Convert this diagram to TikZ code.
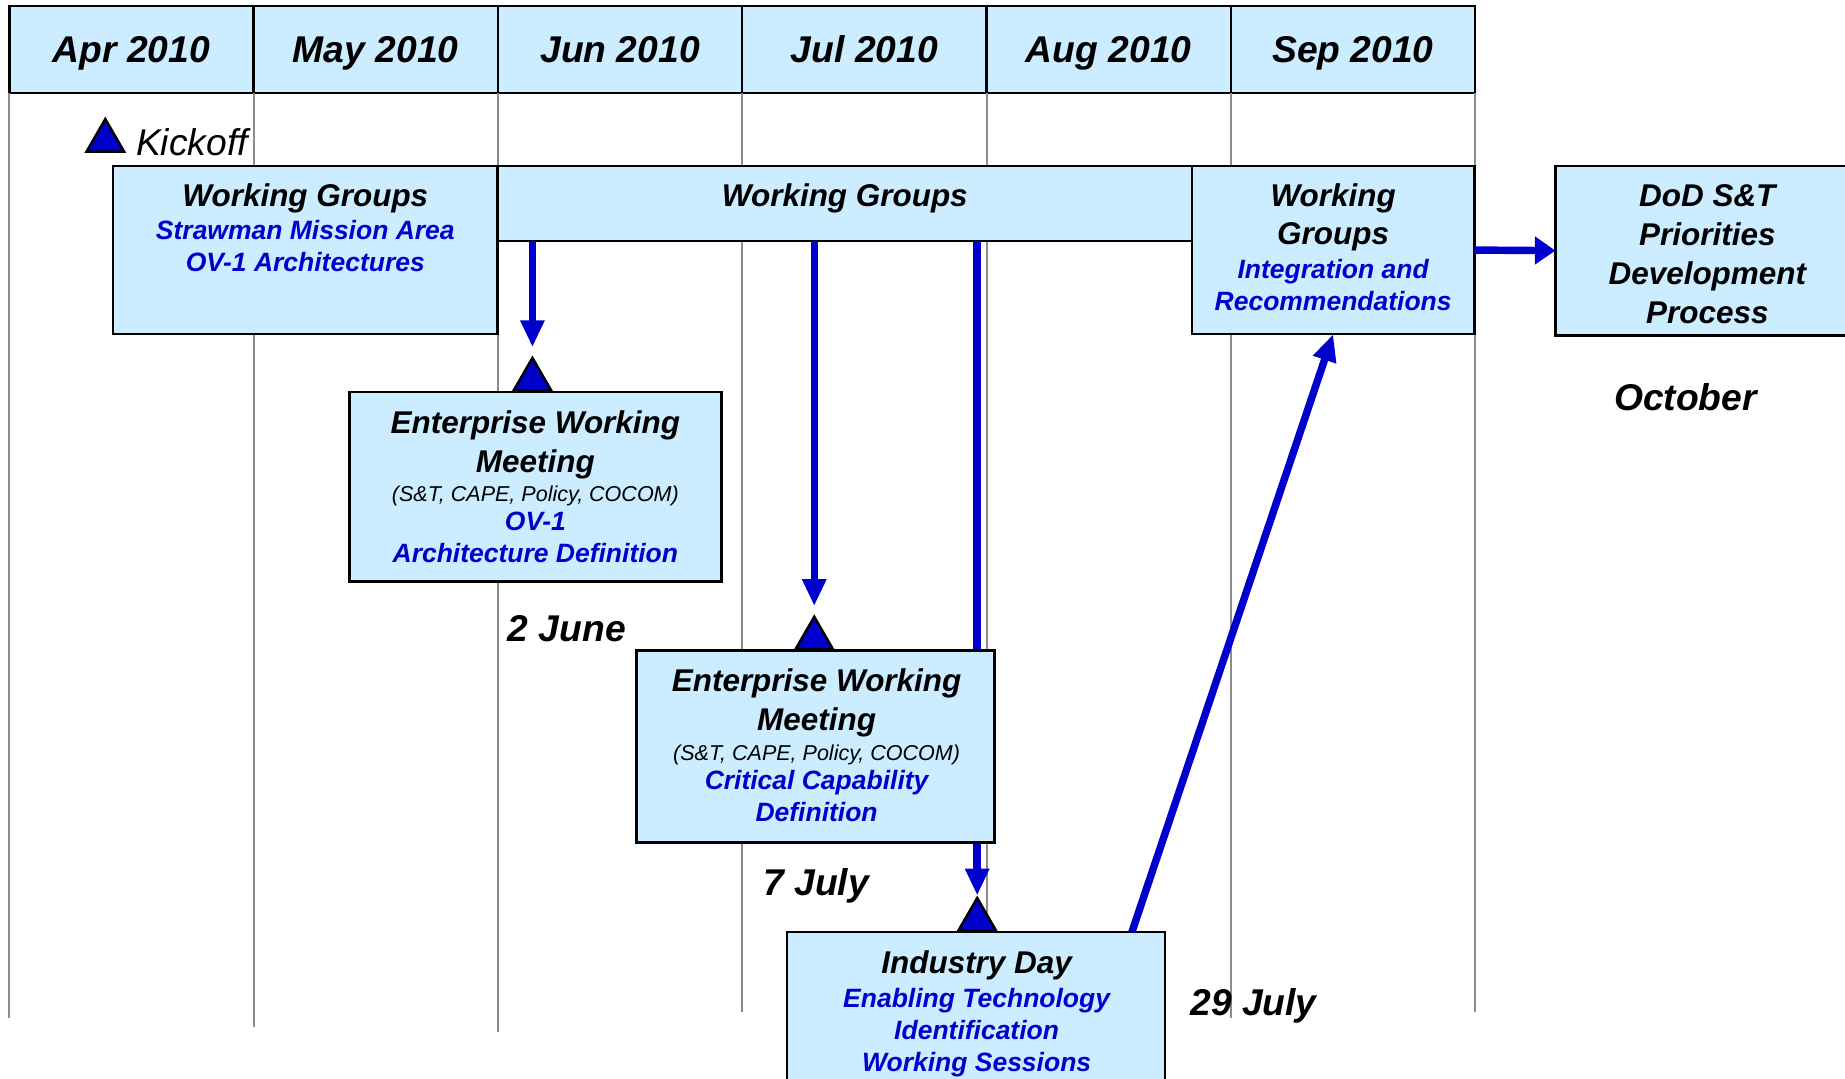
\documentclass[tikz,border=0pt]{standalone}
\usepackage{fontspec}
\setmainfont{Liberation Sans}
\usetikzlibrary{positioning,fit,arrows.meta,shapes.geometric}
\definecolor{cellblue}{HTML}{CCECFF}
\definecolor{linkblue}{HTML}{0000CC}
\definecolor{gridgray}{HTML}{8C8C8C}
\newcommand\ttlfont{\fontsize{7.6}{7.7}\selectfont\bfseries\itshape}
\newcommand\subfont{\fontsize{6.4}{7.7}\selectfont\bfseries\itshape\color{linkblue}}
\newcommand\smlfont{\fontsize{5.2}{7.7}\selectfont\itshape}

\tikzset{
  month/.style={draw,fill=cellblue,line width=0.6pt,minimum width=2.075cm,minimum height=0.74cm,
    inner sep=0pt,outer sep=0pt,text height=6.4pt,text depth=0pt,
    font=\fontsize{9}{10}\selectfont\bfseries\itshape},
  box/.style={draw,fill=cellblue,line width=0.6pt,inner sep=0pt,outer sep=0pt},
  boxtext/.style={anchor=north,align=center,inner sep=0pt,font=\fontsize{7.6}{7.7}\selectfont},
  milestone/.style={regular polygon,regular polygon sides=3,minimum size=0.37cm,inner sep=0pt,
    draw,fill=linkblue,line width=0.6pt,anchor=south},
  flow/.style={linkblue,line width=1.8pt,-{Triangle[length=6.5pt,width=5.5pt]}},
  date/.style={anchor=base west,inner sep=0pt,font=\fontsize{9}{10}\selectfont\bfseries\itshape},
  gridline/.style={gridgray,line width=0.5pt}
}

\begin{document}
\begin{tikzpicture}[x=0.01cm,y=-0.01cm]
\useasboundingbox (0,0) rectangle (1568,917);

% month header
\node (apr) [month] at (111.75,42) {Apr 2010};
\node (may) [month,right=0pt of apr] {May 2010};
\node (jun) [month,right=0pt of may] {Jun 2010};
\node (jul) [month,right=0pt of jun] {Jul 2010};
\node (aug) [month,right=0pt of jul] {Aug 2010};
\node (sep) [month,right=0pt of aug] {Sep 2010};

% month grid
\draw[gridline] (apr.south west) -- ++(0,786);
\draw[gridline] (may.south west) -- ++(0,794);
\draw[gridline] (jun.south west) -- ++(0,798);
\draw[gridline] (jul.south west) -- ++(0,781);
\draw[gridline] (aug.south west) -- ++(0,781);
\draw[gridline] (sep.south west) -- ++(0,786);
\draw[gridline] (sep.south east) -- ++(0,781);

% working groups
\node (wgA) [box,fit={(96,141) (423,284)}] {};
\node (wgB) [box,fit={(423,141) (1013,205)}] {};
\node (wgC) [box,fit={(1013,141) (1253,284)}] {};
\node (dod) [box,fit={(1322,141) (1580,285)}] {};
\node (ind) [box,fit={(669,792) (990,940)}] {};

\node (kick) [milestone] at (89.5,130) {};
\node (tri1) [milestone] at (452.5,333) {};
\node (tri2) [milestone] at (692,553) {};
\node (tri3) [milestone] at (830.5,792) {};

\draw[flow] (tri3.north |- wgB.south) -- (tri3.north);

\node (ewmA) [box,fit={(297,333) (613,494)}] {};
\node (ewmB) [box,fit={(541,553) (845,716)}] {};

\draw[flow,shorten >=2pt] (tri1.north |- wgB.south) -- (tri1.north);
\draw[flow,shorten >=2pt] (tri2.north |- wgB.south) -- (tri2.north);
\coordinate (indout) at (962,792);
\draw[flow] (indout) -- (wgC.south);
\draw[flow,-{Triangle[length=5pt,width=6.5pt]}] (wgC.east) -- (dod.west);

% box texts
\node (wgAtext) [boxtext] at (259.5,155) {{\ttlfont Working Groups}\\[0.4pt]
  {\subfont Strawman Mission Area}\\{\subfont OV-1 Architectures}};
\node (wgBtext) [boxtext] at (718,155) {{\ttlfont Working Groups}};
\node (wgCtext) [boxtext] at (1133,155) {{\ttlfont Working}\\[1.7pt]{\ttlfont Groups}\\[0.4pt]
  {\subfont Integration and}\\{\subfont Recommendations}};
\node (dodtext) [boxtext] at (1451,156) {{\ttlfont DoD S\&T}\\[1.7pt]{\ttlfont Priorities}\\[1.7pt]
  {\ttlfont Development}\\[1.7pt]{\ttlfont Process}};
\node (ewmAtext) [boxtext] at (455,348) {{\ttlfont Enterprise Working}\\[1.7pt]{\ttlfont Meeting}\\[-0.6pt]
  {\smlfont (S\&T, CAPE, Policy, COCOM)}\\[-0.6pt]{\subfont OV-1}\\{\subfont Architecture Definition}};
\node (ewmBtext) [boxtext] at (694,568) {{\ttlfont Enterprise Working}\\[1.7pt]{\ttlfont Meeting}\\[-0.6pt]
  {\smlfont (S\&T, CAPE, Policy, COCOM)}\\[-0.6pt]{\subfont Critical Capability}\\{\subfont Definition}};
\node (indtext) [boxtext] at (830,807) {{\ttlfont Industry Day}\\[0.6pt]
  {\subfont Enabling Technology}\\{\subfont Identification}\\{\subfont Working Sessions}};

% dates
\node (kicktxt) [date,font=\fontsize{9}{10}\selectfont\itshape] at (115,132) {Kickoff};
\node (june) [date] at (431,545) {2 June};
\node (july) [date] at (648,761) {7 July};
\node (lastjuly) [date] at (1011,863) {29 July};
\node (oct) [date] at (1371,349) {October};
\end{tikzpicture}
\end{document}
